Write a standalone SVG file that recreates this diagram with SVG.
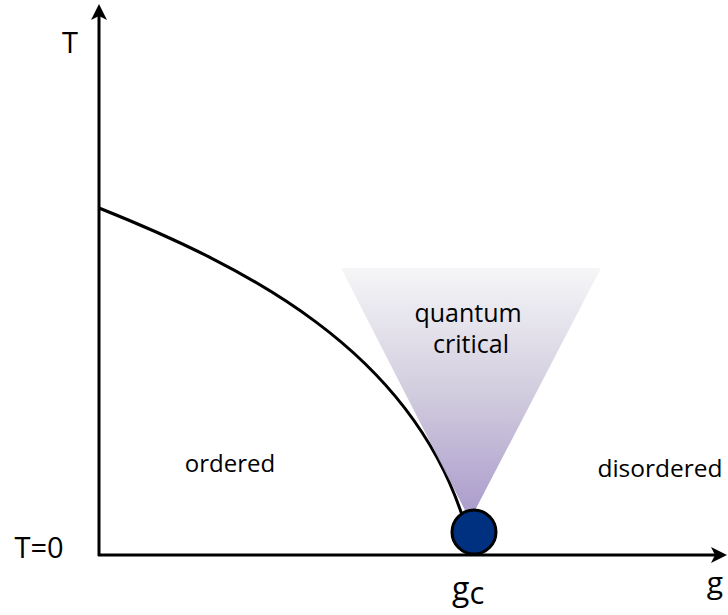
<svg xmlns="http://www.w3.org/2000/svg" width="728" height="615" viewBox="0 0 728 615">
<style>
text{font-family:"Open Sans","Noto Sans",sans-serif;fill:#000}
.ax{stroke:#000;stroke-width:3;fill:none}
.lbl{font-size:24px}
</style>
<defs>
<linearGradient id="cone" x1="0" y1="268" x2="0" y2="520" gradientUnits="userSpaceOnUse">
<stop offset="0" stop-color="#f4f4f6"/>
<stop offset="0.5" stop-color="#c9c3d8"/>
<stop offset="1" stop-color="#9a88c2"/>
</linearGradient>
</defs>
<g id="connectors">
<line class="ax" x1="99" y1="556" x2="99" y2="14"/>
<path d="M99,4 L91,20 L99,16 L107,20 z" fill="#000"/>
<line class="ax" x1="98" y1="555" x2="718" y2="555"/>
<path d="M727,555 L711,547 L715,555 L711,563 z" fill="#000"/>
<path id="curve" d="M99,208 C249,268 407,350 462,515" fill="none" stroke="#000" stroke-width="3"/>
</g>
<g id="cone-region">
<path d="M341,268 L601,268 L470,520 z" fill="url(#cone)" fill-opacity="0.85"/>
</g>
<g id="qcp">
<circle cx="474" cy="532" r="22" fill="#003080" stroke="#000" stroke-width="3"/>
</g>
<g id="labels">
<text x="70" y="53" font-size="29" text-anchor="middle">T</text>
<text x="39" y="558" font-size="29" text-anchor="middle">T=0</text>
<text x="715" y="593" font-size="30" text-anchor="middle">g</text>
<text x="452" y="600" font-size="32">g<tspan font-size="31" dy="4">c</tspan></text>
<text class="lbl" x="230" y="472" text-anchor="middle">ordered</text>
<text x="660" y="477" font-size="24.5" text-anchor="middle">disordered</text>
<text x="468" y="322" font-size="25" text-anchor="middle">quantum</text>
<text x="471" y="353" font-size="25" text-anchor="middle">critical</text>
</g>
</svg>
